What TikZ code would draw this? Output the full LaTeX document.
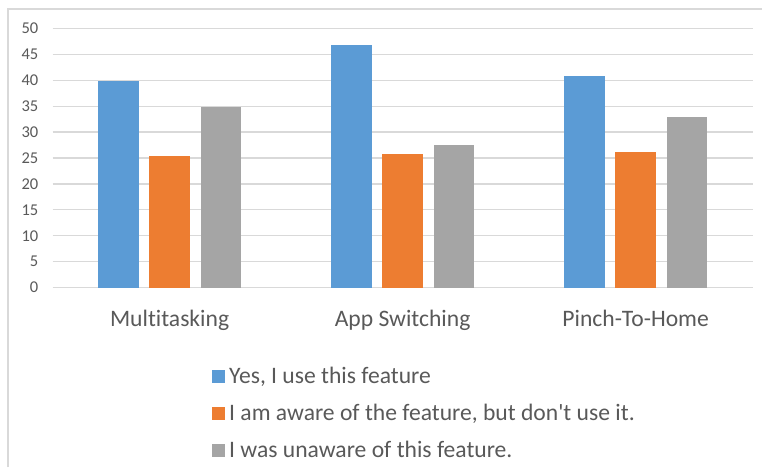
\documentclass[tikz,border=0pt]{standalone}
\usepackage{fontspec}
\setmainfont{Carlito}[Ligatures=NoCommon]
\usepackage{xcolor}
\usepackage{tikz}
\usetikzlibrary{positioning}
\definecolor{yesc}{HTML}{5B9BD5}
\definecolor{awarec}{HTML}{ED7D31}
\definecolor{unawarec}{HTML}{A5A5A5}
\definecolor{gridc}{HTML}{D9D9D9}
\definecolor{txt}{HTML}{595959}

\begin{document}
\begin{tikzpicture}[x=1pt, y=-1pt,
    ticklbl/.style={text=txt, font=\fontsize{16.5}{19}\selectfont, anchor=east, inner sep=0pt},
    catlbl/.style={text=txt, font=\fontsize{23.6}{28}\selectfont, anchor=base, inner sep=0pt},
    leglbl/.style={text=txt, font=\fontsize{23.6}{28}\selectfont, anchor=base west, inner sep=0pt},
    keybox/.style={minimum size=13pt, inner sep=0pt, anchor=south west}]
  \useasboundingbox (0,0) rectangle (762,467);
  % chart frame
  \draw[gridc, line width=2pt] (8,467) -- (8,9) -- (762,9);
  % value axis and grid
  \foreach \v in {0,5,...,50} {
    \draw[gridc, line width=1.3pt] (52.7,{287.5-5.18*\v}) -- (752.5,{287.5-5.18*\v});
    \node[ticklbl] (tick\v) at (38.5,{287.5-5.18*\v}) {\v};
  }
  % bars: centre / category / yes / aware / unaware
  \foreach \c/\name/\a/\b/\u in {169.6/Multitasking/39.8/25.3/34.8,
                                 402.6/App Switching/46.8/25.7/27.6,
                                 635.6/Pinch-To-Home/40.8/26.1/32.9} {
    \fill[yesc]     (\c-71.8,287.5) rectangle (\c-31.1,{287.5-5.18*\a});
    \fill[awarec]   (\c-20.3,287.5) rectangle (\c+20.3,{287.5-5.18*\b});
    \fill[unawarec] (\c+31.1,287.5) rectangle (\c+71.8,{287.5-5.18*\u});
    \node[catlbl] (cat\c) at (\c,326.5) {\name};
  }
  % legend
  \node[keybox, fill=yesc]     (key1) at (212,383.5) {};
  \node[keybox, fill=awarec]   (key2) at (212,420.2) {};
  \node[keybox, fill=unawarec] (key3) at (212,457) {};
  \node[leglbl] (leg1) at (229,383.5) {Yes, I use this feature};
  \node[leglbl] (leg2) at (229,420.2) {I am aware of the feature, but don\textquotesingle t use it.};
  \node[leglbl] (leg3) at (229,457) {I was unaware of this feature.};
\end{tikzpicture}
\end{document}
